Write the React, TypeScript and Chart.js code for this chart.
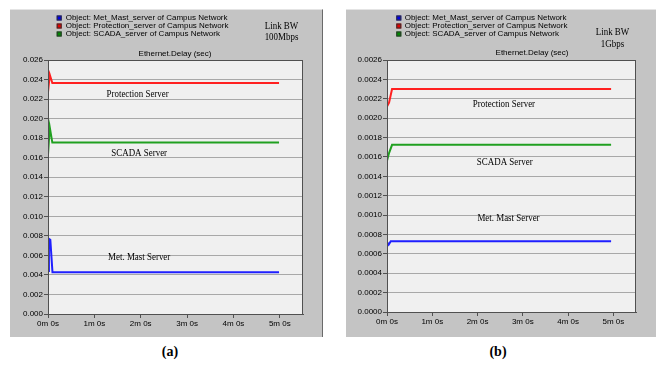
import React, { useEffect, useRef } from "react";
import { Chart, registerables } from "chart.js";

Chart.register(...registerables);

// ---------- shared data ----------
const xTickSeconds = [0, 60, 120, 180, 240, 300];
const xTickLabels = ["0m 0s", "1m 0s", "2m 0s", "3m 0s", "4m 0s", "5m 0s"];
const legendNames = [
  "Object: Met_Mast_server of Campus Network",
  "Object: Protection_server of Campus Network",
  "Object: SCADA_server of Campus Network",
];
const annotationNames = ["Met. Mast Server", "Protection Server", "SCADA Server"];

// ---------- panel (a): 100 Mbps ----------
const yTicksA = [0, 0.002, 0.004, 0.006, 0.008, 0.01, 0.012, 0.014, 0.016, 0.018, 0.02, 0.022, 0.024, 0.026];
const metA_t = [0, 1.2, 3.0, 5.8, 299];
const metA_v = [0.0044, 0.0077, 0.0076, 0.00427, 0.00427];
const protA_t = [0, 2.3, 5.6, 299];
const protA_v = [0.0227, 0.0245, 0.02365, 0.02365];
const scadaA_t = [0, 2.3, 5.6, 299];
const scadaA_v = [0.0163, 0.0191, 0.01755, 0.01755];
// annotation anchors (seconds, value) for Met, Protection, SCADA
const annotA_t = [118, 116, 118];
const annotA_v = [0.0058, 0.02252, 0.01644];
const linkA = ["Link BW", "100Mbps"];

// ---------- panel (b): 1 Gbps ----------
const yTicksB = [0, 0.0002, 0.0004, 0.0006, 0.0008, 0.001, 0.0012, 0.0014, 0.0016, 0.0018, 0.002, 0.0022, 0.0024, 0.0026];
const metB_t = [0, 2.2, 5.0, 297];
const metB_v = [0.00072, 0.000695, 0.00073, 0.00073];
const protB_t = [0, 2.7, 6.7, 297];
const protB_v = [0.00212, 0.00216, 0.0023, 0.0023];
const scadaB_t = [0, 2.7, 6.7, 297];
const scadaB_v = [0.00156, 0.00164, 0.001725, 0.001725];
const annotB_t = [161, 155, 156];
const annotB_v = [0.000965, 0.002142, 0.00155];
const linkB = ["Link BW", "1Gbps"];

const lineColors = ["#1f1fff", "#ff2020", "#20a020"];
const legendColors = ["#0000e6", "#e60000", "#008a00"];

const SANS = "'Liberation Sans', Arial, sans-serif";
const SERIF = "'Liberation Serif', 'Times New Roman', serif";
const SERIF_SCALE_X = 0.85;

function pts(t: number[], v: number[]) {
  return t.map((x, i) => ({ x, y: v[i] }));
}

type PanelCfg = {
  left: number;
  top: number;
  width: number;
  height: number;
  yAxisWidth: number;
  xAxisHeight: number;
  padTop: number;
  padRight: number;
  yMax: number;
  yTicks: number[];
  yDecimals: number;
  series: { t: number[]; v: number[] }[];
  annotT: number[];
  annotV: number[];
  link: string[];
  linkX: number;
  linkY: number[];
  legendSqX: number;
  legendTextX: number;
  legendY: number[];
  titleX: number;
  titleY: number;
  rightBorder: boolean;
};

function drawCondensed(ctx: CanvasRenderingContext2D, text: string, x: number, y: number) {
  ctx.save();
  ctx.translate(x, y);
  ctx.scale(SERIF_SCALE_X, 1);
  ctx.fillText(text, 0, 0);
  ctx.restore();
}

function Panel({ cfg }: { cfg: PanelCfg }) {
  const ref = useRef<HTMLCanvasElement>(null);
  useEffect(() => {
    const overlay = {
      id: "overlay",
      beforeDraw(chart: any) {
        const { ctx, chartArea } = chart;
        ctx.save();
        ctx.fillStyle = "#f0f0f0";
        ctx.fillRect(chartArea.left, chartArea.top, chartArea.right - chartArea.left, chartArea.bottom - chartArea.top);
        ctx.restore();
      },
      afterDraw(chart: any) {
        const { ctx, chartArea } = chart;
        const xs = chart.scales.x;
        const ys = chart.scales.y;
        ctx.save();
        // plot border
        ctx.strokeStyle = "#505050";
        ctx.lineWidth = 1;
        ctx.strokeRect(chartArea.left + 0.5, chartArea.top + 0.5, chartArea.right - chartArea.left - 1, chartArea.bottom - chartArea.top);
        // legend
        ctx.textBaseline = "middle";
        ctx.textAlign = "left";
        ctx.font = `8px ${SANS}`;
        legendNames.forEach((name, i) => {
          const y = cfg.legendY[i];
          ctx.fillStyle = legendColors[i];
          ctx.fillRect(cfg.legendSqX, y - 2.5, 5, 5);
          ctx.strokeStyle = "#303030";
          ctx.strokeRect(cfg.legendSqX + 0.5, y - 2.5 + 0.5, 4, 4);
          ctx.fillStyle = "#000";
          ctx.fillText(name, cfg.legendTextX, y);
        });
        // title
        ctx.textAlign = "center";
        ctx.fillText("Ethernet.Delay (sec)", cfg.titleX, cfg.titleY);
        // link BW
        ctx.font = `10.5px ${SERIF}`;
        cfg.link.forEach((s, i) => drawCondensed(ctx, s, cfg.linkX, cfg.linkY[i]));
        // annotations
        annotationNames.forEach((s, i) => {
          drawCondensed(ctx, s, xs.getPixelForValue(cfg.annotT[i]), ys.getPixelForValue(cfg.annotV[i]));
        });
        ctx.restore();
      },
    };
    const chart = new Chart(ref.current!, {
      type: "line",
      data: {
        datasets: cfg.series.map((s, i) => ({
          data: pts(s.t, s.v),
          borderColor: lineColors[i],
          backgroundColor: lineColors[i],
          borderWidth: 2,
          pointRadius: 0,
          tension: 0,
          fill: false,
        })),
      },
      options: {
        animation: false,
        responsive: false,
        maintainAspectRatio: false,
        devicePixelRatio: 1,
        layout: { padding: { top: cfg.padTop, right: cfg.padRight, left: 0, bottom: 0 } },
        plugins: { legend: { display: false }, tooltip: { enabled: false }, title: { display: false } },
        scales: {
          x: {
            type: "linear",
            min: 0,
            max: 330,
            afterBuildTicks: (axis: any) => {
              axis.ticks = xTickSeconds.map((value) => ({ value }));
            },
            afterFit: (s: any) => {
              s.height = cfg.xAxisHeight;
            },
            ticks: {
              autoSkip: false,
              maxRotation: 0,
              padding: 1,
              color: "#000",
              font: { family: SANS, size: 8 },
              callback: (v: any) => xTickLabels[xTickSeconds.indexOf(Number(v))] ?? "",
            },
            grid: { drawOnChartArea: false, drawTicks: true, tickLength: 4, color: "#505050", tickColor: "#505050" },
            border: { display: true, color: "#505050", width: 1 },
          },
          y: {
            type: "linear",
            min: 0,
            max: cfg.yMax,
            afterBuildTicks: (axis: any) => {
              axis.ticks = cfg.yTicks.map((value) => ({ value }));
            },
            afterFit: (s: any) => {
              s.width = cfg.yAxisWidth;
            },
            ticks: {
              autoSkip: false,
              padding: 1,
              color: "#000",
              font: { family: SANS, size: 8 },
              callback: (v: any) => Number(v).toFixed(cfg.yDecimals),
            },
            grid: { color: "#a8a8a8", lineWidth: 1, tickLength: 4, tickColor: "#505050" },
            border: { display: true, color: "#505050", width: 1 },
          },
        },
      } as any,
      plugins: [overlay],
    });
    return () => chart.destroy();
  }, []);
  return (
    <div
      style={{
        position: "absolute",
        left: cfg.left,
        top: cfg.top,
        width: cfg.width,
        height: cfg.height,
        background: "#c4c4c4",
        boxSizing: "border-box",
        borderRight: cfg.rightBorder ? "1px solid #6a6a6a" : "none",
        borderTop: "1px solid #e4e4e4",
      }}
    >
      <canvas ref={ref} width={cfg.width} height={cfg.height} style={{ display: "block", width: cfg.width, height: cfg.height }} />
    </div>
  );
}

const panelA: PanelCfg = {
  left: 10,
  top: 9,
  width: 313,
  height: 328,
  yAxisWidth: 38,
  xAxisHeight: 24,
  padTop: 50,
  padRight: 20,
  yMax: 0.026,
  yTicks: yTicksA,
  yDecimals: 3,
  series: [
    { t: metA_t, v: metA_v },
    { t: protA_t, v: protA_v },
    { t: scadaA_t, v: scadaA_v },
  ],
  annotT: annotA_t,
  annotV: annotA_v,
  link: linkA,
  linkX: 271.5,
  linkY: [16, 27.7],
  legendSqX: 46.7,
  legendTextX: 55.7,
  legendY: [8, 16, 24],
  titleX: 165,
  titleY: 44,
  rightBorder: true,
};

const panelB: PanelCfg = {
  left: 346,
  top: 9,
  width: 310,
  height: 328,
  yAxisWidth: 41,
  xAxisHeight: 26,
  padTop: 50,
  padRight: 20,
  yMax: 0.0026,
  yTicks: yTicksB,
  yDecimals: 4,
  series: [
    { t: metB_t, v: metB_v },
    { t: protB_t, v: protB_v },
    { t: scadaB_t, v: scadaB_v },
  ],
  annotT: annotB_t,
  annotV: annotB_v,
  link: linkB,
  linkX: 266.5,
  linkY: [22, 34.7],
  legendSqX: 50.3,
  legendTextX: 58.7,
  legendY: [8, 16, 24],
  titleX: 186,
  titleY: 43,
  rightBorder: false,
};

export default function App() {
  const caption: React.CSSProperties = {
    position: "absolute",
    top: 343,
    width: 40,
    textAlign: "center",
    fontFamily: SERIF,
    fontWeight: "bold",
    fontSize: 14,
    lineHeight: "18px",
    color: "#000",
  };
  return (
    <div style={{ position: "fixed", left: 0, top: 0, width: 666, height: 367, background: "#fff", overflow: "hidden" }}>
      <Panel cfg={panelA} />
      <Panel cfg={panelB} />
      <div style={{ ...caption, left: 170 - 20 }}>(a)</div>
      <div style={{ ...caption, left: 498 - 20 }}>(b)</div>
    </div>
  );
}
